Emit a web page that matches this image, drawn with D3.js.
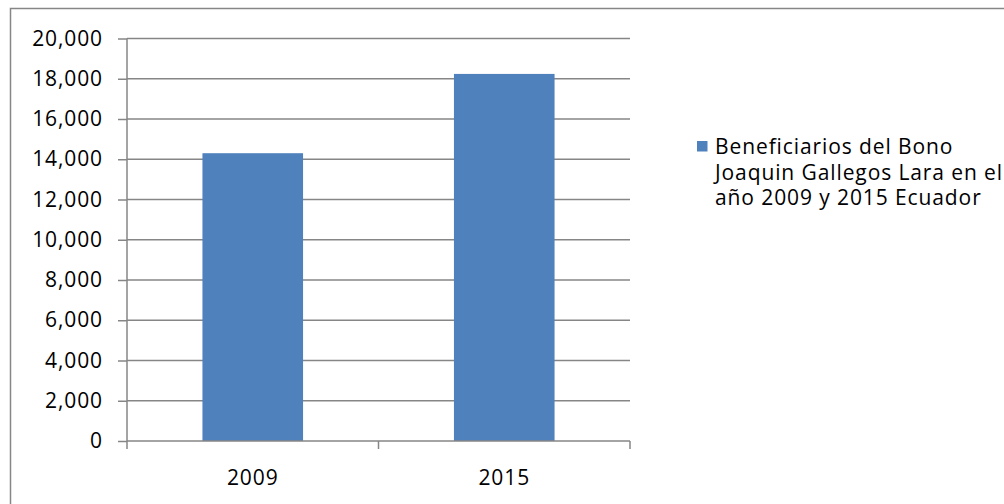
<!DOCTYPE html>
<html><head><meta charset="utf-8">
<script src="https://cdn.jsdelivr.net/npm/d3@7"></script>
<style>html,body{margin:0;padding:0;background:#fff;}svg{display:block;}</style>
</head><body>
<svg id="chart" width="1004" height="504"></svg>
<script>
const categories = ["2009", "2015"];
const values = [14300, 18240];
const yTicks = [0, 2000, 4000, 6000, 8000, 10000, 12000, 14000, 16000, 18000, 20000];
const legendLines = ["Beneficiarios del Bono", "Joaquin Gallegos Lara en el", "año 2009 y 2015 Ecuador"];

const svg = d3.select("#chart");
const font = "'Open Sans', 'Noto Sans', sans-serif";
const fs = "21px", ls = "0.9px";
const grey = "#868686";
const m = {left: 127, right: 630, top: 38.5, bottom: 441};

svg.append("rect").attr("x", 10.5).attr("y", 8.5).attr("width", 1010).attr("height", 520)
  .attr("fill", "#fff").attr("stroke", grey).attr("stroke-width", 1.5);

const x = d3.scaleBand().domain(categories).range([m.left, m.right]).paddingInner(0.6).paddingOuter(0.3);
const y = d3.scaleLinear().domain([0, 20000]).range([m.bottom, m.top]);

// gridlines
svg.append("g").selectAll("line").data(yTicks.filter(d => d > 0)).join("line")
  .attr("x1", m.left).attr("x2", m.right)
  .attr("y1", d => y(d)).attr("y2", d => y(d))
  .attr("stroke", grey).attr("stroke-width", 1.5);

// bars
svg.append("g").selectAll("rect").data(values).join("rect")
  .attr("x", (d, i) => x(categories[i])).attr("width", x.bandwidth())
  .attr("y", d => y(d)).attr("height", d => y(0) - y(d))
  .attr("fill", "#4f81bd");

// y axis
const yAxis = d3.axisLeft(y).tickValues(yTicks).tickSize(9).tickPadding(15)
  .tickFormat(d3.format(","));
const gy = svg.append("g").attr("transform", `translate(${m.left},0)`).call(yAxis);
gy.select(".domain").attr("stroke", grey).attr("stroke-width", 1.5).attr("d", `M0,${m.bottom}V${m.top}`);
gy.selectAll(".tick line").attr("stroke", grey).attr("stroke-width", 1.5);
gy.selectAll(".tick text").attr("fill", "#000").style("font-family", font).style("font-size", fs).style("letter-spacing", ls);

// x axis
const xb = d3.scaleLinear().domain([0, categories.length]).range([m.left, m.right]);
const gx = svg.append("g").attr("transform", `translate(0,${m.bottom})`);
gx.append("line").attr("x1", m.left).attr("x2", m.right).attr("stroke", grey).attr("stroke-width", 1.5);
gx.selectAll("line.t").data(d3.range(categories.length + 1)).join("line").attr("class", "t")
  .attr("x1", d => xb(d)).attr("x2", d => xb(d)).attr("y1", 0).attr("y2", 8)
  .attr("stroke", grey).attr("stroke-width", 1.5);
gx.selectAll("text").data(categories).join("text")
  .attr("x", d => x(d) + x.bandwidth() / 2).attr("y", 44)
  .attr("text-anchor", "middle").attr("fill", "#000")
  .style("font-family", font).style("font-size", fs).style("letter-spacing", ls).text(d => d);

// legend
const lg = svg.append("g").attr("transform", "translate(697,141)");
lg.append("rect").attr("width", 10.5).attr("height", 10.5).attr("fill", "#4f81bd");
lg.selectAll("text").data(legendLines).join("text")
  .attr("x", 18).attr("y", (d, i) => 13 + i * 25.5)
  .attr("fill", "#000").style("font-family", font).style("font-size", fs).style("letter-spacing", ls).text(d => d);
</script>
</body></html>
